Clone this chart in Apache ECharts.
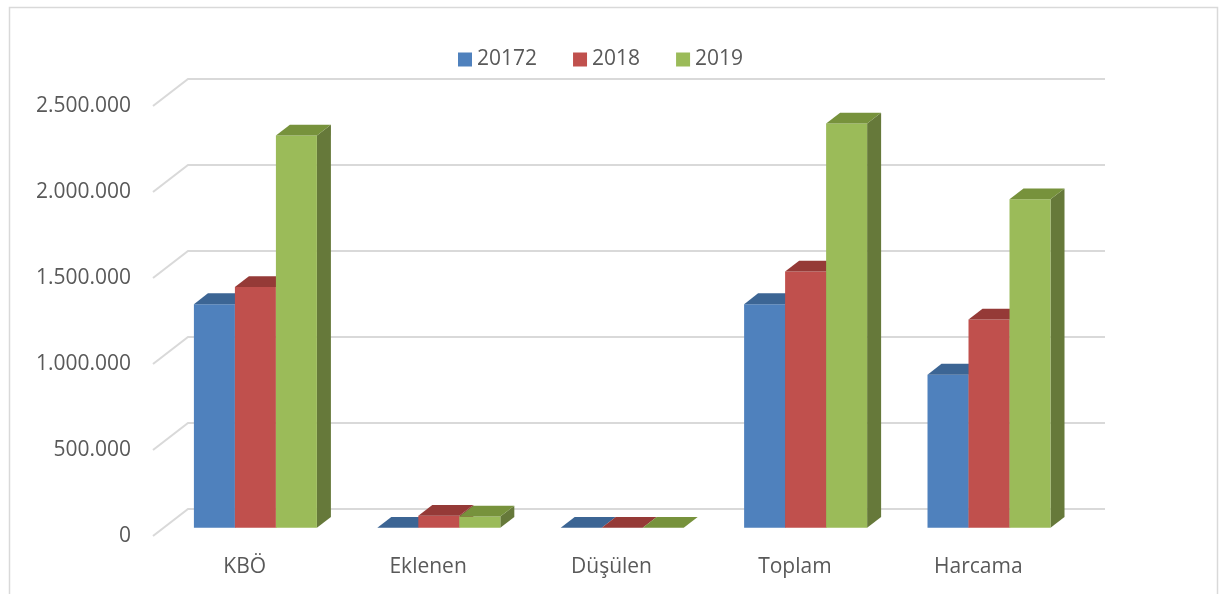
<!DOCTYPE html>
<html>
  <head>
    <meta charset="utf-8" />
    <title>KBÖ 3D bar</title>
    <script src="https://cdn.jsdelivr.net/npm/echarts@6/dist/echarts.min.js"></script>
    <style>
      html, body { margin: 0; padding: 0; background: #fff; }
    </style>
  </head>
  <body>
    <div id="main" style="width: 1219px; height: 594px"></div>
    <script>
      // data
      var categories = ["KBÖ", "Eklenen", "Düşülen", "Toplam", "Harcama"];
      var years = ["20172", "2018", "2019"];
      var values2017 = [1300000, 0, 0, 1300000, 890000];
      var values2018 = [1400000, 70000, 0, 1490000, 1210000];
      var values2019 = [2280000, 65000, 0, 2350000, 1910000];
      var yTicks = [0, 500000, 1000000, 1500000, 2000000, 2500000];

      // face colours: front, top, side
      var colors = [
        ["#4f81bd", "#3c6594", "#385d8a"],
        ["#c0504d", "#953a37", "#8c3836"],
        ["#9bbb59", "#77923c", "#66793a"],
      ];

      // floor depth (front edge -> back wall)
      var DX = 35, DY = -27;
      var FRONT = 0.306; // bars sit a bit behind the front edge
      var DEPTH = 0.4;   // bar depth as a share of the floor depth

      function fmt(v) {
        return String(v).replace(/\B(?=(\d{3})+(?!\d))/g, ".");
      }

      function barSeries(name, values, s) {
        return {
          type: "custom",
          name: name,
          itemStyle: { color: colors[s][0] },
          data: values.map(function (v, i) { return [i, v]; }),
          z: 3,
          renderItem: function (params, api) {
            var ci = api.value(0), v = api.value(1);
            var base = api.coord([ci, 0]);
            var top = api.coord([ci, v]);
            var band = api.size([1, 0])[0];
            var bw = band * 41 / 183.4;
            var ox = DX * FRONT, oy = DY * FRONT;
            var dx = DX * DEPTH, dy = DY * DEPTH;
            var x0 = base[0] + ox - 1.5 * bw + s * bw;
            var yb = base[1] + oy, yt = top[1] + oy;
            return {
              type: "group",
              children: [
                {
                  type: "polygon",
                  shape: { points: [[x0 + bw, yt], [x0 + bw + dx, yt + dy], [x0 + bw + dx, yb + dy], [x0 + bw, yb]] },
                  style: { fill: colors[s][2] },
                },
                {
                  type: "rect",
                  shape: { x: x0, y: yt, width: bw, height: yb - yt },
                  style: { fill: colors[s][0] },
                },
                {
                  type: "polygon",
                  shape: { points: [[x0, yt], [x0 + bw, yt], [x0 + bw + dx, yt + dy], [x0 + dx, yt + dy]] },
                  style: { fill: colors[s][1] },
                },
              ],
            };
          },
        };
      }

      var option = {
        animation: false,
        backgroundColor: "#fff",
        textStyle: { fontFamily: "Open Sans", color: "#595959" },
        graphic: [
          {
            type: "rect",
            shape: { x: 9.5, y: 7.5, width: 1208, height: 620 },
            style: { fill: "none", stroke: "#d9d9d9", lineWidth: 1.5 },
            silent: true,
          },
        ],
        legend: {
          data: years,
          top: 44,
          left: 453,
          icon: "rect",
          itemWidth: 14,
          itemHeight: 14,
          itemGap: 36,
          textStyle: { fontSize: 21, color: "#595959", fontFamily: "Open Sans" },
        },
        grid: {
          left: 153,
          right: 149,
          top: 106,
          bottom: 58,
          containLabel: false,
          outerBoundsMode: "none",
        },
        xAxis: {
          type: "category",
          data: categories,
          axisLine: { show: false },
          axisTick: { show: false },
          axisLabel: { margin: 21, fontSize: 21, color: "#595959" },
        },
        yAxis: {
          type: "value",
          min: 0,
          max: 2500000,
          interval: 500000,
          axisLine: { show: false },
          axisTick: { show: false },
          splitLine: { show: false },
          axisLabel: { margin: 22, fontSize: 21, color: "#595959", formatter: fmt },
        },
        series: [
          {
            type: "custom",
            name: "grid",
            silent: true,
            z: 1,
            data: yTicks.map(function (v) { return [0, v]; }),
            renderItem: function (params, api) {
              var cs = params.coordSys;
              var y = api.coord([0, api.value(1)])[1];
              return {
                type: "polyline",
                shape: { points: [[cs.x, y], [cs.x + DX, y + DY], [cs.x + cs.width + DX, y + DY]] },
                style: { fill: null, stroke: "#d9d9d9", lineWidth: 2 },
              };
            },
          },
          barSeries(years[0], values2017, 0),
          barSeries(years[1], values2018, 1),
          barSeries(years[2], values2019, 2),
        ],
      };

      var myChart = echarts.init(document.getElementById("main"));
      myChart.setOption(option);
    </script>
  </body>
</html>
